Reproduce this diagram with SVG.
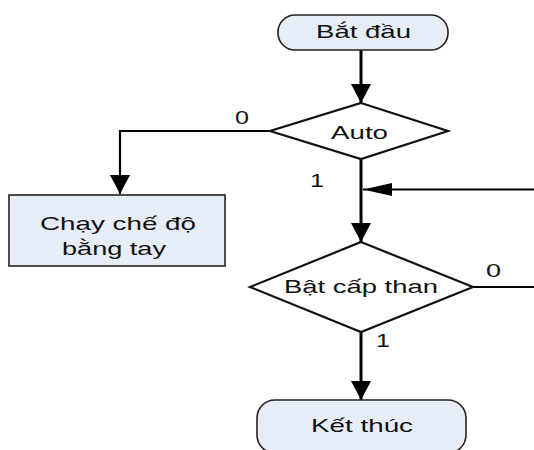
<svg xmlns="http://www.w3.org/2000/svg" width="534" height="450" viewBox="0 0 534 450">
  <style>
    .node { fill: #E7EDF7; stroke: #222; stroke-width: 1.6; }
    .dec { fill: #FFFFFF; stroke: #111; stroke-width: 2.2; }
    .t { font-family: "Liberation Sans", Arial, sans-serif; font-size: 19px; fill: #111; }
    .lbl { font-family: "Liberation Sans", Arial, sans-serif; font-size: 18px; fill: #111; }
    .c { fill: none; stroke: #000; }
    .thick { stroke-width: 3; }
    .thin { stroke-width: 2.2; }
  </style>
  <defs>
    <marker id="down" markerUnits="userSpaceOnUse" markerWidth="20" markerHeight="20" refX="19" refY="10" orient="auto">
      <path d="M0,0 L19,10 L0,20 z" fill="#000"/>
    </marker>
    <marker id="left" markerUnits="userSpaceOnUse" markerWidth="29" markerHeight="13" refX="29" refY="6.5" orient="auto">
      <path d="M0,0 L29,6.5 L0,13 z" fill="#000"/>
    </marker>
  </defs>
  <rect width="534" height="450" fill="#FFFFFF"/>

  <g id="connectors">
    <path class="c thick" d="M361,50 V103" marker-end="url(#down)"/>
    <path class="c thin" d="M270,131 H120 V194" marker-end="url(#down)"/>
    <path class="c thick" d="M361,159 V242" marker-end="url(#down)"/>
    <path class="c thin" d="M534,189.5 H363" marker-end="url(#left)"/>
    <path class="c thin" d="M473,287 H534"/>
    <path class="c thick" d="M361,332 V400" marker-end="url(#down)"/>
    <text class="lbl" x="235" y="124" textLength="14" lengthAdjust="spacingAndGlyphs">0</text>
    <text class="lbl" x="310" y="187" textLength="14" lengthAdjust="spacingAndGlyphs">1</text>
    <text class="lbl" x="486" y="277" textLength="15" lengthAdjust="spacingAndGlyphs">0</text>
    <text class="lbl" x="376" y="347" textLength="14" lengthAdjust="spacingAndGlyphs">1</text>
  </g>

  <g id="start">
    <rect class="node" x="278" y="15" width="170" height="35" rx="17" ry="17"/>
    <text class="t" x="316" y="38" textLength="95" lengthAdjust="spacingAndGlyphs">Bắt đầu</text>
  </g>

  <g id="auto">
    <polygon class="dec" points="361,103 448,131 361,159 270,131"/>
    <text class="t" x="331" y="139" textLength="57" lengthAdjust="spacingAndGlyphs">Auto</text>
  </g>

  <g id="manual">
    <rect class="node" x="9" y="195" width="216" height="71"/>
    <text class="t" x="40" y="230" textLength="156" lengthAdjust="spacingAndGlyphs">Chạy chế độ</text>
    <text class="t" x="62" y="255" textLength="104" lengthAdjust="spacingAndGlyphs">bằng tay</text>
  </g>

  <g id="coal">
    <polygon class="dec" points="361,242 473,287 361,332 250,287"/>
    <text class="t" x="284" y="293" textLength="154" lengthAdjust="spacingAndGlyphs">Bật cấp than</text>
  </g>

  <g id="end">
    <rect class="node" x="257" y="400" width="209" height="53" rx="18" ry="18"/>
    <text class="t" x="311" y="432" textLength="102" lengthAdjust="spacingAndGlyphs">Kết thúc</text>
  </g>
</svg>
